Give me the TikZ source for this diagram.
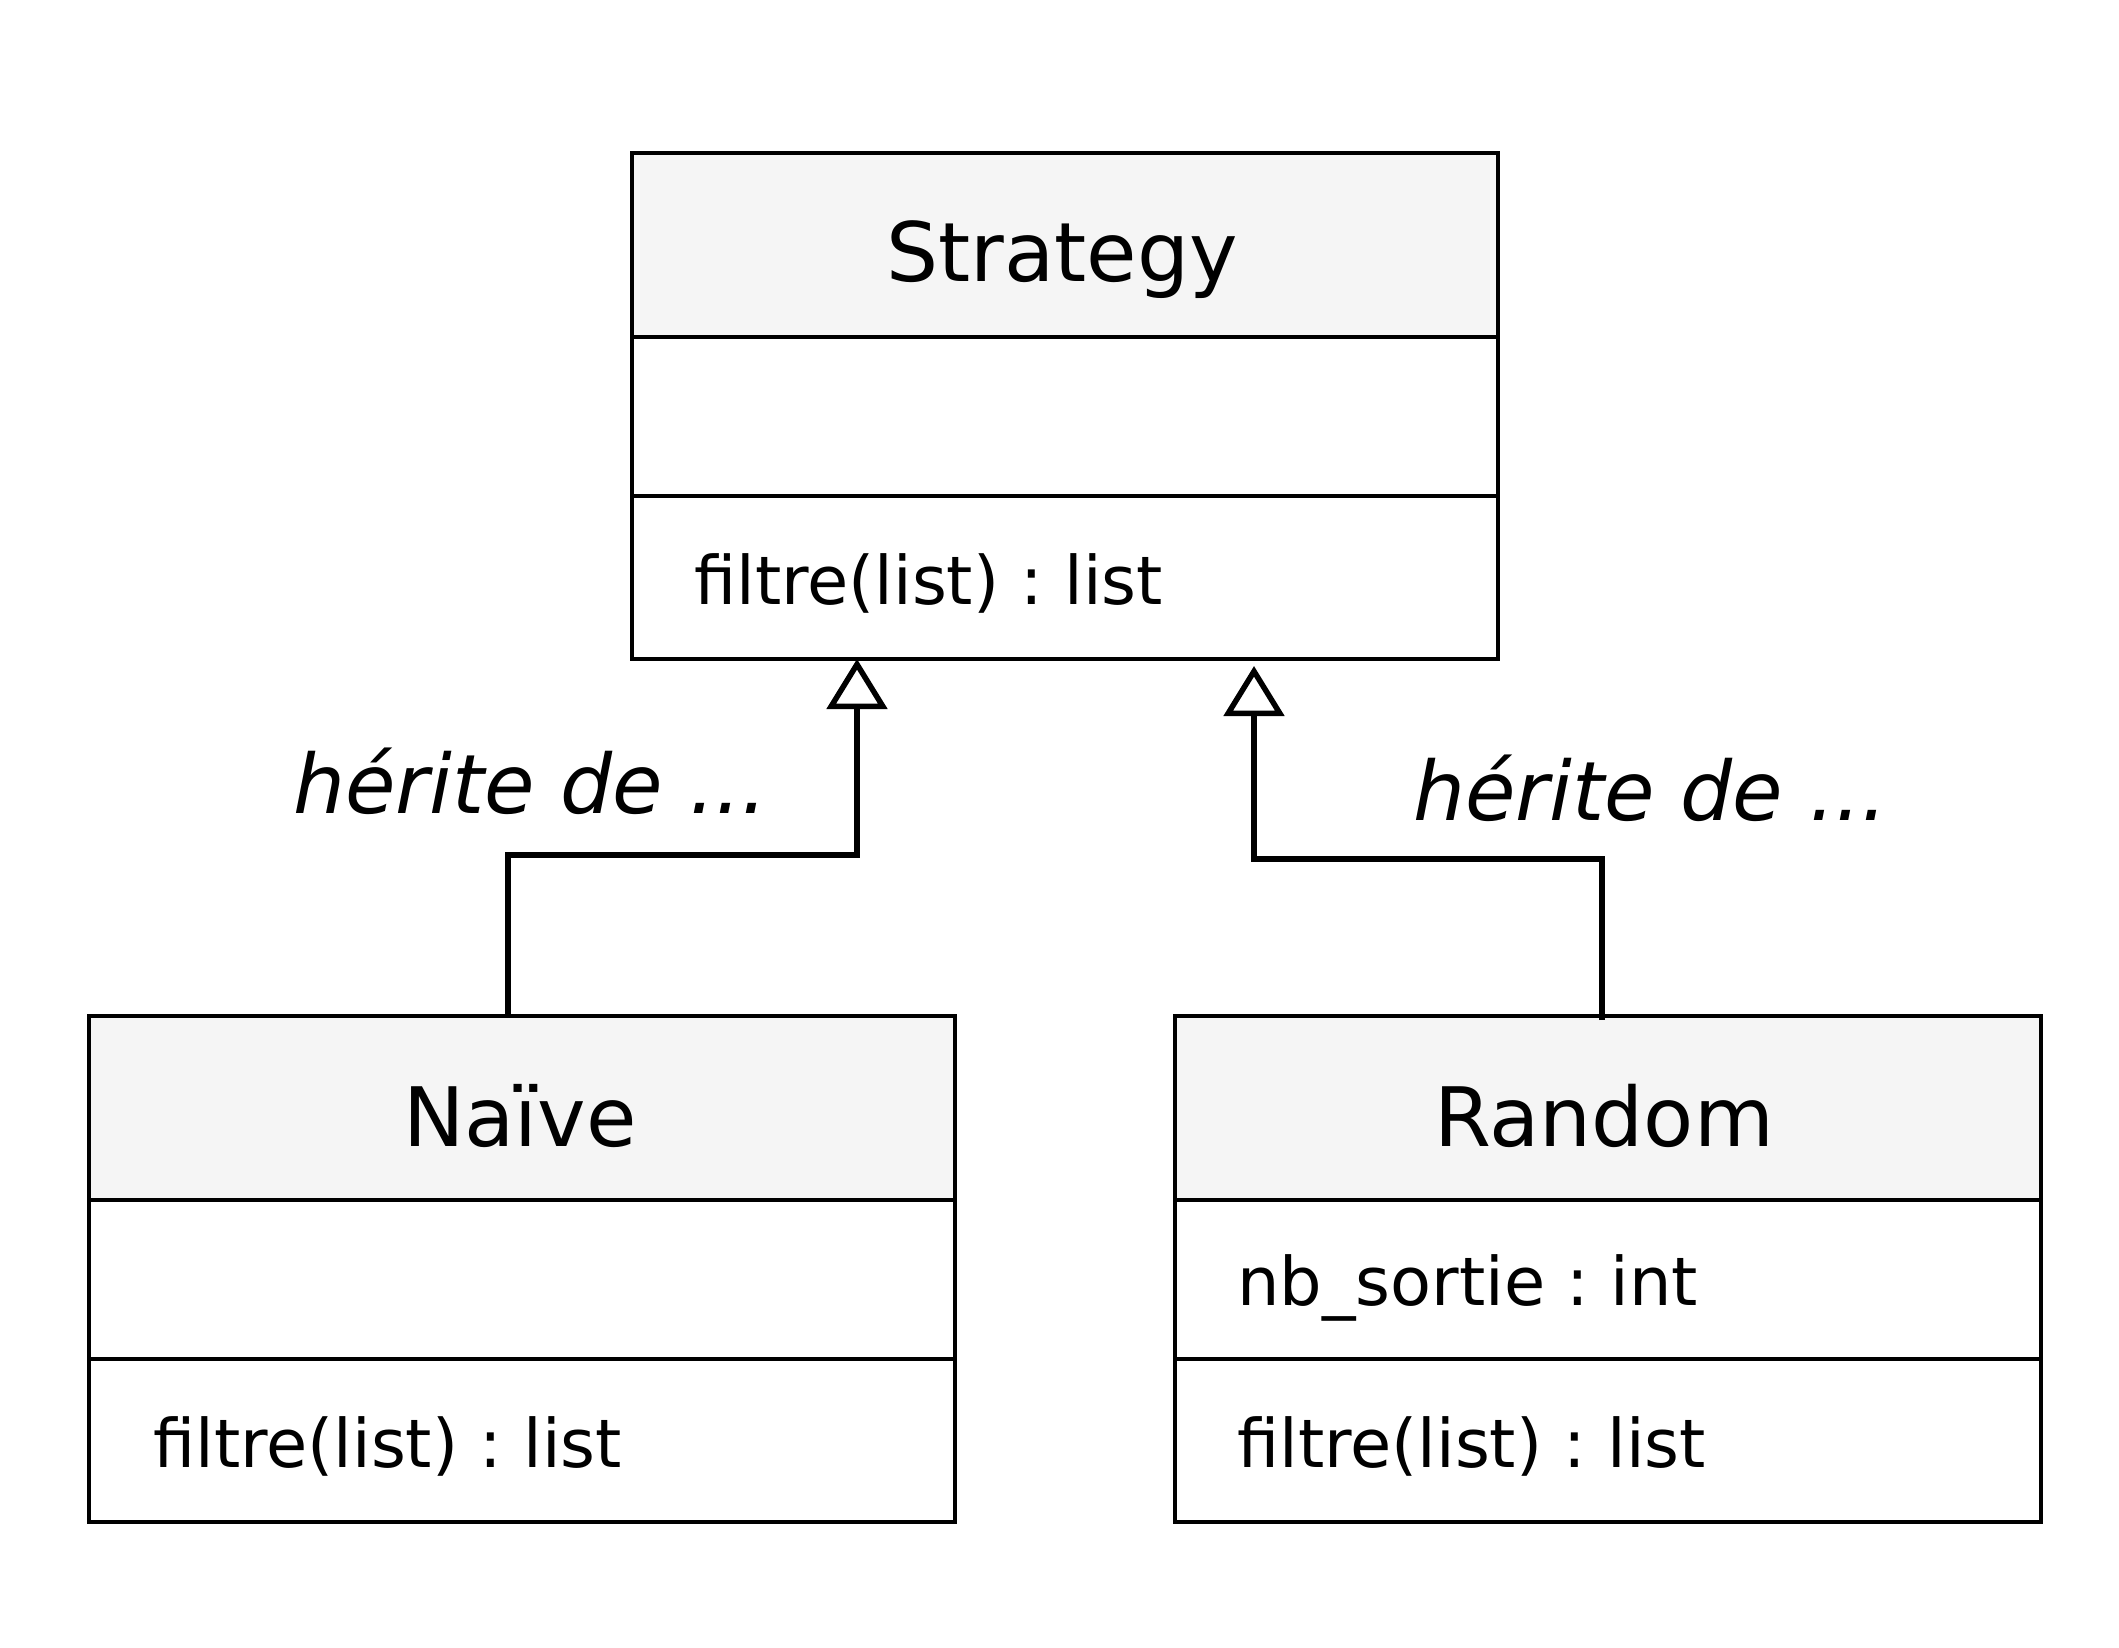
\documentclass[tikz,border=0pt]{standalone}
\usepackage{fontspec}
\setmainfont{DejaVu Sans}
\usetikzlibrary{arrows.meta,calc}
\definecolor{headgray}{HTML}{F5F5F5}
\frenchspacing
\begin{document}
\begin{tikzpicture}[x=1pt,y=-1pt,
  box/.style={draw, line width=4pt, inner sep=0pt, outer sep=0pt, minimum width=866pt, anchor=north west},
  headbox/.style={box, fill=headgray, minimum height=184pt},
  attrbox/.style={box, fill=white, minimum height=159pt},
  methbox/.style={box, fill=white, minimum height=163pt},
  titletext/.style={anchor=base, inner sep=0pt, font=\fontsize{82}{98}\selectfont},
  membertext/.style={anchor=base west, inner sep=0pt, font=\fontsize{67}{80}\selectfont},
  labeltext/.style={anchor=base west, inner sep=0pt, font=\fontsize{82}{98}\selectfont\itshape},
  inh/.style={line width=5.5pt, -{Triangle[open, length=50pt, width=60pt, fill=white]}}
]
\fill[white] (0,0) rectangle (2119,1648);
\useasboundingbox (0,0) rectangle (2119,1648);

% Strategy
\node[headbox] (strategyH) at (632,153) {};
\node[attrbox] (strategyA) at (632,337) {};
\node[methbox] (strategyM) at (632,496) {};
\node[titletext] (strategyT) at (1062,281) {Strategy};
\node[membertext] (strategyF) at (694,604) {filtre(list) : list};

% Naive
\node[headbox] (naiveH) at (89,1016) {};
\node[attrbox] (naiveA) at (89,1200) {};
\node[methbox] (naiveM) at (89,1359) {};
\node[titletext] (naiveT) at (520,1146) {Naïve};
\node[membertext] (naiveF) at (153,1467) {filtre(list) : list};

% Random
\node[headbox] (randomH) at (1175,1016) {};
\node[attrbox] (randomA) at (1175,1200) {};
\node[methbox] (randomM) at (1175,1359) {};
\node[titletext] (randomT) at (1604,1146) {Random};
\node[membertext] (randomN) at (1237,1305) {nb\_sortie : int};
\node[membertext] (randomF) at (1237,1467) {filtre(list) : list};

% connectors
\coordinate (l1) at (508,855);
\coordinate (l2) at (857,855);
\coordinate (r1) at (1602,859);
\coordinate (r2) at (1254,859);
\draw[inh] (naiveH.north -| l1) -- (l1) -- (l2) -- (strategyM.south -| l2);
\draw[inh] ($(randomH.north -| r1)+(0,4)$) -- (r1) -- (r2) -- ($(strategyM.south -| r2)+(0,7)$);

\node[labeltext] (lab1) at (293,813) {hérite de ...};
\node[labeltext] (lab2) at (1413,820) {hérite de ...};
\end{tikzpicture}
\end{document}
